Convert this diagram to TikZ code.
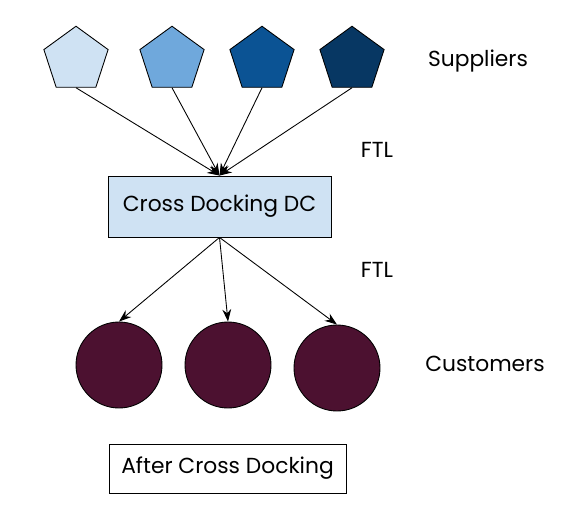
\documentclass[tikz,border=0pt]{standalone}
\usepackage{fontspec}
\setmainfont{Poppins}
\usepackage{tikz}
\usetikzlibrary{positioning}
\usetikzlibrary{shapes.geometric}
\usetikzlibrary{arrows.meta}
\definecolor{blueA}{HTML}{CFE2F3}
\definecolor{blueB}{HTML}{6FA8DC}
\definecolor{blueC}{HTML}{0B5394}
\definecolor{blueD}{HTML}{073763}
\definecolor{berry}{HTML}{4C1130}

\begin{document}
\begin{tikzpicture}[x=0.02cm, y=-0.02cm,
        font=\fontsize{12.4}{15}\selectfont,
        supplier/.style={regular polygon, regular polygon sides=5, draw,
                minimum size=67.5*0.02cm, inner sep=0pt, line width=0.5pt},
        customer/.style={circle, draw, fill=berry, minimum size=86*0.02cm,
                inner sep=0pt, line width=0.5pt},
        flow/.style={-{Stealth[length=7pt,width=5pt]}, line width=0.5pt}]

    \useasboundingbox (0,0) rectangle (567,517);

    %S: suppliers
    \node[supplier, fill=blueA] (s1) at (76,60) {};
    \node[supplier, fill=blueB] (s2) at (172,60) {};
    \node[supplier, fill=blueC] (s3) at (262,60) {};
    \node[supplier, fill=blueD] (s4) at (352,60) {};
    \node (lsup) at (478,61) {Suppliers};

    % ------------------

    %D: cross docking DC
    \node[draw, fill=blueA, minimum width=223*0.02cm, minimum height=61*0.02cm,
        line width=0.5pt] (dc) at (219.5,206.5) {Cross Docking DC};
    \node (ftl1) at (377,150) {FTL};
    \node (ftl2) at (377,270) {FTL};

    % ------------------

    %C: customers
    \node[customer] (c1) at (119,365) {};
    \node[customer] (c2) at (228,365) {};
    \node[customer] (c3) at (337,368) {};
    \node (lcus) at (485,364) {Customers};

    % caption
    \node[draw, minimum width=237*0.02cm, minimum height=49*0.02cm,
        line width=0.5pt] (cap) at (227.5,468.5) {After Cross Docking};

    % flows
    \path[flow]
    (s1.south) edge (dc.north)
    (s2.south) edge (dc.north)
    (s3.south) edge (dc.north)
    (s4.south) edge (dc.north)
    (dc.south) edge (c1.north)
    (dc.south) edge (c2.north)
    (dc.south) edge (c3.north)
    ;
\end{tikzpicture}
\end{document}
